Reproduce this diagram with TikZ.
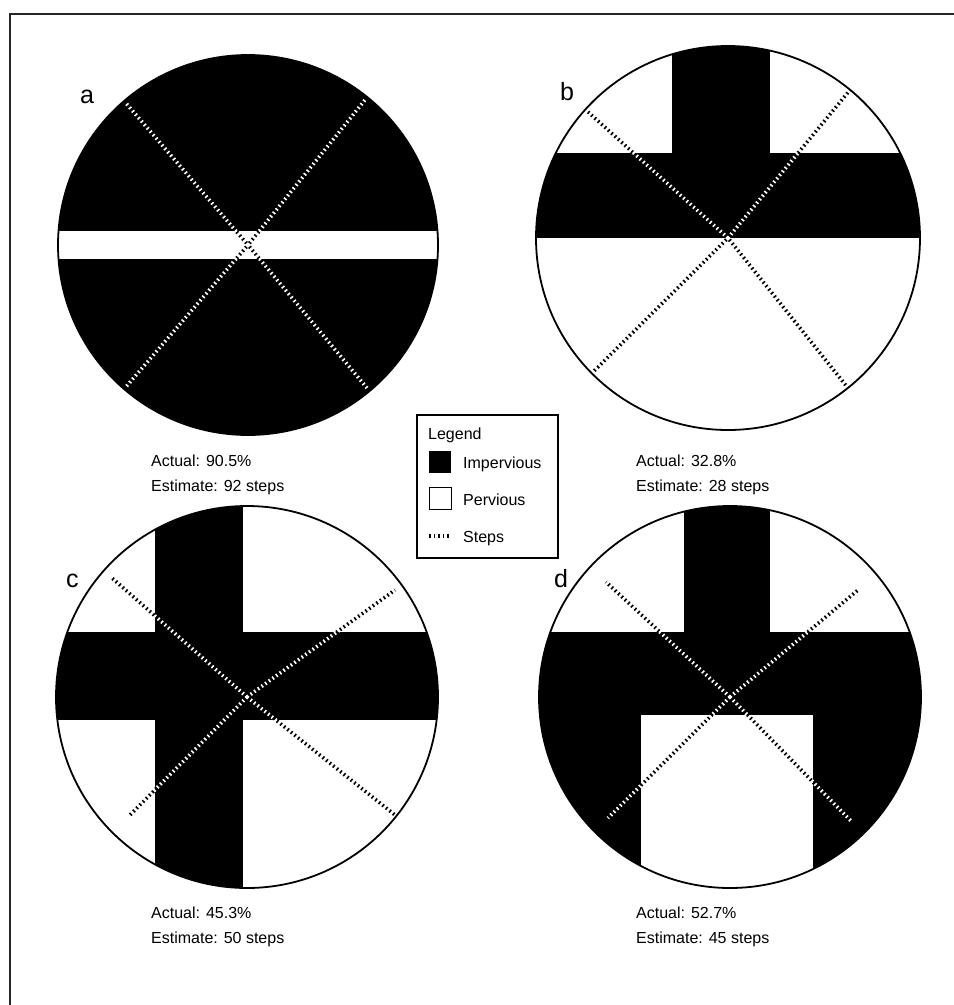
\documentclass[tikz,border=0pt]{standalone}
\usepackage{fontspec}
\setmainfont{Liberation Sans}
\begin{document}
\begin{tikzpicture}[x=1pt,y=-1pt,
  stepw/.style={white, line width=3.6pt, dash pattern=on 1.6pt off 2.9pt},
  stepb/.style={black, line width=3.6pt, dash pattern=on 1.6pt off 2.9pt, dash phase=2.25pt},
  rim/.style={draw=black, line width=1.8pt},
  caption/.style={anchor=base west, inner sep=0pt, font=\fontsize{16}{19}\selectfont},
  panel/.style={anchor=base west, inner sep=0pt, font=\fontsize{25}{28}\selectfont},
  legtext/.style={anchor=base west, inner sep=0pt, font=\fontsize{16}{19}\selectfont}]
\useasboundingbox (0,0) rectangle (954,1005);
\fill[white] (0,0) rectangle (954,1005);
\draw[line width=1.6pt, black!85] (954,14) -- (10,14) -- (10,1005);

% ---------- panel a ----------
\coordinate (ac) at (248,245);
\begin{scope}
  \clip (ac) circle[radius=190pt];
  \fill[black] (ac) circle[radius=190pt];
  \fill[white] (40,231) rectangle (460,259);
\end{scope}
\draw[rim] (ac) circle[radius=190pt];
\coordinate (aUL) at (125,102);
\coordinate (aUR) at (365,100);
\coordinate (aLL) at (125,388);
\coordinate (aLR) at (367,388);
\foreach \e in {aUL,aUR,aLL,aLR}{
  \draw[stepw] (ac) -- (\e);
  \draw[stepb] (ac) -- (\e);
}
\node[panel] (la) at (80,103) {a};
\node[caption] (aa) at (151,466) {Actual: 90.5\%};
\node[caption] (ae) at (151,491) {Estimate: 92 steps};

% ---------- panel b ----------
\coordinate (bc) at (728,238);
\begin{scope}
  \clip (bc) circle[radius=192pt];
  \fill[black] (672,30) rectangle (770,154);
  \fill[black] (520,153) rectangle (940,238);
\end{scope}
\draw[rim] (bc) circle[radius=192pt];
\coordinate (bUL) at (588,112);
\coordinate (bUR) at (850,90);
\coordinate (bLL) at (593,372);
\coordinate (bLR) at (848,388);
\foreach \e in {bUL,bUR,bLL,bLR}{
  \draw[stepw] (bc) -- (\e);
  \draw[stepb] (bc) -- (\e);
}
\node[panel] (lb) at (560,100) {b};
\node[caption] (ba) at (636,466) {Actual: 32.8\%};
\node[caption] (be) at (636,491) {Estimate: 28 steps};

% ---------- panel c ----------
\coordinate (cc) at (247,697);
\begin{scope}
  \clip (cc) circle[radius=191pt];
  \fill[black] (155,490) rectangle (243,900);
  \fill[black] (40,632) rectangle (460,720);
\end{scope}
\draw[rim] (cc) circle[radius=191pt];
\coordinate (cUL) at (112,578);
\coordinate (cUR) at (395,590);
\coordinate (cLL) at (130,815);
\coordinate (cLR) at (395,815);
\foreach \e in {cUL,cUR,cLL,cLR}{
  \draw[stepw] (cc) -- (\e);
  \draw[stepb] (cc) -- (\e);
}
\node[panel] (lc) at (66,587) {c};
\node[caption] (ca) at (151,918) {Actual: 45.3\%};
\node[caption] (ce) at (151,943) {Estimate: 50 steps};

% ---------- panel d ----------
\coordinate (dc) at (730,697);
\begin{scope}
  \clip (dc) circle[radius=191pt];
  \fill[black] (dc) circle[radius=191pt];
  \fill[white] (520,490) rectangle (684,632);
  \fill[white] (770,490) rectangle (940,632);
  \fill[white] (641,715) rectangle (813,900);
\end{scope}
\draw[rim] (dc) circle[radius=191pt];
\coordinate (dUL) at (606,582);
\coordinate (dUR) at (858,590);
\coordinate (dLL) at (608,818);
\coordinate (dLR) at (852,822);
\foreach \e in {dUL,dUR,dLL,dLR}{
  \draw[stepw] (dc) -- (\e);
  \draw[stepb] (dc) -- (\e);
}
\node[panel] (ld) at (554,587) {d};
\node[caption] (da) at (636,918) {Actual: 52.7\%};
\node[caption] (de) at (636,943) {Estimate: 45 steps};

% ---------- legend ----------
\draw[line width=1.3pt] (417,415) rectangle (558,558);
\node[legtext] (lg) at (428,439) {Legend};
\fill[black] (429,451) rectangle (451,473);
\node[legtext] (li) at (463,468) {Impervious};
\draw[line width=1pt] (429,487) rectangle (451,509);
\node[legtext] (lp) at (463,505) {Pervious};
\coordinate (s1) at (427,536);
\coordinate (s2) at (451,536);
\draw[stepb] (s1) -- (s2);
\node[legtext] (ls) at (463,542) {Steps};
\end{tikzpicture}
\end{document}
